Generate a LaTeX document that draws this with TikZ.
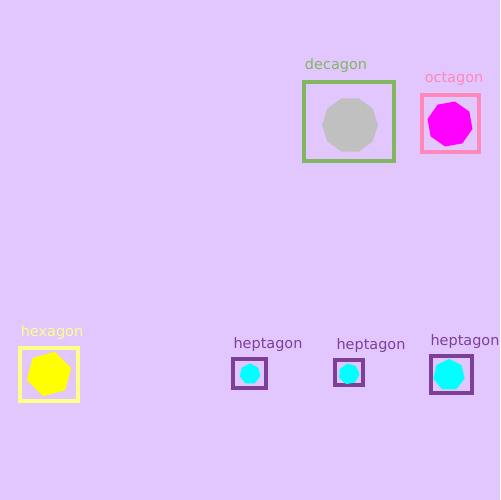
\documentclass[tikz,border=0pt]{standalone}
\usepackage{fontspec}
\setmainfont{DejaVu Sans}
\usetikzlibrary{shapes.geometric}
\definecolor{bg}{RGB}{226,198,254}
\definecolor{grn}{RGB}{130,182,96}
\definecolor{pnk}{RGB}{255,136,187}
\definecolor{ylw}{RGB}{255,255,136}
\definecolor{prp}{RGB}{125,63,152}
\definecolor{gry}{RGB}{192,192,192}
\definecolor{cyn}{RGB}{0,255,255}
\definecolor{mag}{RGB}{255,0,255}
\definecolor{yel}{RGB}{255,255,0}
\tikzset{
  frame/.style={draw=#1, line width=4bp, rectangle, inner sep=0pt},
  poly/.style={regular polygon, regular polygon sides=#1, inner sep=0pt, draw=none},
  lbl/.style={text=#1, font=\fontsize{14.5}{16}\selectfont, inner sep=0pt, anchor=base},
}
\begin{document}
\begin{tikzpicture}[x=1bp,y=-1bp]
\fill[bg] (0,0) rectangle (500,500);
\useasboundingbox (0,0) rectangle (500,500);
% decagon
\node[frame=grn, minimum width=90bp, minimum height=79bp] (decbox) at (349,121.5) {};
\node[poly=10, fill=gry, minimum size=56bp] (dec) at (350,125) {};
\node[lbl=grn] (declbl) at (336,70) {decagon};
% octagon
\node[frame=pnk, minimum width=57bp, minimum height=57bp] (octbox) at (450.5,123.5) {};
\node[poly=8, fill=mag, minimum size=46bp, shape border rotate=10] (oct) at (450,124) {};
\node[lbl=pnk] (octlbl) at (454,83) {octagon};
% hexagon
\node[frame=ylw, minimum width=58bp, minimum height=53bp] (hexbox) at (49,374.5) {};
\node[poly=6, fill=yel, minimum size=46bp, shape border rotate=15] (hex) at (49,374) {};
\node[lbl=ylw] (hexlbl) at (52,336) {hexagon};
% heptagons
\node[frame=prp, minimum width=33bp, minimum height=29bp] (hepboxa) at (249.5,373.5) {};
\node[poly=7, fill=cyn, minimum size=21bp] (hepa) at (250,374) {};
\node[lbl=prp] (heplbla) at (268,348) {heptagon};
\node[frame=prp, minimum width=28bp, minimum height=25bp] (hepboxb) at (349,372.5) {};
\node[poly=7, fill=cyn, minimum size=21bp, shape border rotate=10] (hepb) at (349,374) {};
\node[lbl=prp] (heplblb) at (371,349) {heptagon};
\node[frame=prp, minimum width=41bp, minimum height=37bp] (hepboxc) at (451.5,374.5) {};
\node[poly=7, fill=cyn, minimum size=32bp] (hepc) at (449,375) {};
\node[lbl=prp] (heplblc) at (465,345) {heptagon};
\end{tikzpicture}
\end{document}
